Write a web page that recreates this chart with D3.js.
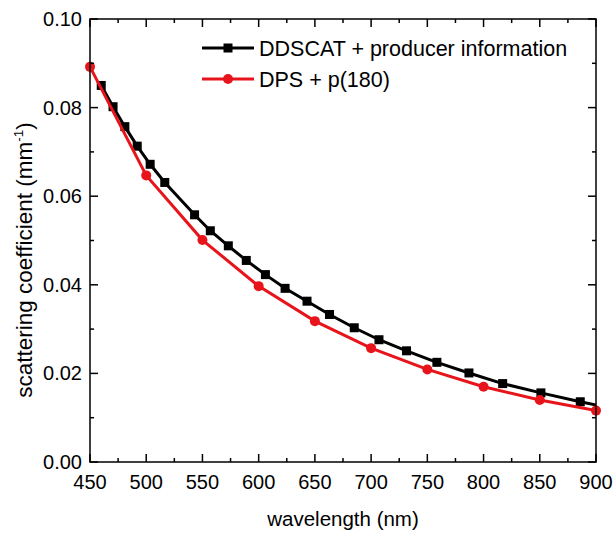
<!DOCTYPE html>
<html>
<head>
<meta charset="utf-8">
<script src="https://cdn.jsdelivr.net/npm/d3@7"></script>
<style>
  html, body { margin: 0; padding: 0; background: #fff; }
  svg text { font-family: Arial, "Liberation Sans", sans-serif; fill: #000; }
</style>
</head>
<body>
<div id="chart"></div>
<script>
// ── Data ───────────────────────────────────────
const DDSCAT_WL  = [460, 470.5, 481, 492, 503.5, 516.5, 543, 557, 573, 589, 606, 623.5,
                    643, 663, 685, 707, 731.5, 758.5, 787, 817, 851, 886, 923];
const DDSCAT_VAL = [0.0850, 0.0802, 0.0757, 0.0713, 0.0672, 0.0631, 0.0558, 0.0522, 0.0488,
                    0.0455, 0.0423, 0.0392, 0.0363, 0.0333, 0.0303, 0.0276, 0.0251, 0.0225,
                    0.0201, 0.0177, 0.0156, 0.0136, 0.0117];
const DPS_WL  = [450, 500, 550, 600, 650, 700, 750, 800, 850, 900];
const DPS_VAL = [0.0892, 0.0647, 0.0501, 0.0397, 0.0318, 0.0257, 0.0209, 0.0170, 0.0140, 0.0116];

const X_TICKS = [450, 500, 550, 600, 650, 700, 750, 800, 850, 900];
const X_MINOR = [475, 525, 575, 625, 675, 725, 775, 825, 875];
const Y_TICKS = [0, 0.02, 0.04, 0.06, 0.08, 0.10];
const Y_MINOR = [0.01, 0.03, 0.05, 0.07, 0.09];

const SERIES = [
  { name: "DDSCAT + producer information", wl: DDSCAT_WL, val: DDSCAT_VAL, color: "#000000", marker: "square" },
  { name: "DPS + p(180)",                  wl: DPS_WL,    val: DPS_VAL,    color: "#e8141b", marker: "circle" }
];

// ── Layout ─────────────────────────────────────
const W = 614, H = 536;
const margin = { top: 19, right: 18, bottom: 74, left: 90 };
const width  = W - margin.left - margin.right;
const height = H - margin.top - margin.bottom;

const svg = d3.select("#chart").append("svg")
  .attr("width", W).attr("height", H);

const g = svg.append("g")
  .attr("transform", `translate(${margin.left},${margin.top})`);

const x = d3.scaleLinear().domain([450, 900]).range([0, width]);
const y = d3.scaleLinear().domain([0, 0.10]).range([height, 0]);

g.append("clipPath").attr("id", "clip")
  .append("rect").attr("width", width).attr("height", height);

// ── Series ─────────────────────────────────────
const line = d3.line().x(d => x(d[0])).y(d => y(d[1]));

SERIES.forEach(s => {
  const pts = s.wl.map((w, i) => [w, s.val[i]]);
  g.append("path")
    .datum(pts)
    .attr("clip-path", "url(#clip)")
    .attr("fill", "none")
    .attr("stroke", s.color)
    .attr("stroke-width", 3)
    .attr("d", line);

  const inside = pts.filter(d => d[0] >= 450 && d[0] <= 900);
  if (s.marker === "square") {
    g.selectAll(null).data(inside).join("rect")
      .attr("x", d => x(d[0]) - 4.5).attr("y", d => y(d[1]) - 4.5)
      .attr("width", 9).attr("height", 9)
      .attr("fill", s.color);
  } else {
    g.selectAll(null).data(inside).join("circle")
      .attr("cx", d => x(d[0])).attr("cy", d => y(d[1]))
      .attr("r", 5)
      .attr("fill", s.color);
  }
});

// ── Frame & ticks (all inward, mirrored) ───────
const MAJ = 8, MIN = 4;
const frame = g.append("g").attr("stroke", "#000").attr("stroke-width", 1.5);

frame.append("rect")
  .attr("width", width).attr("height", height)
  .attr("fill", "none");

[[X_TICKS, MAJ], [X_MINOR, MIN]].forEach(([ticks, len]) => {
  ticks.forEach(t => {
    frame.append("line").attr("x1", x(t)).attr("x2", x(t))
      .attr("y1", height).attr("y2", height - len);
    frame.append("line").attr("x1", x(t)).attr("x2", x(t))
      .attr("y1", 0).attr("y2", len);
  });
});
[[Y_TICKS, MAJ], [Y_MINOR, MIN]].forEach(([ticks, len]) => {
  ticks.forEach(t => {
    frame.append("line").attr("y1", y(t)).attr("y2", y(t))
      .attr("x1", 0).attr("x2", len);
    frame.append("line").attr("y1", y(t)).attr("y2", y(t))
      .attr("x1", width).attr("x2", width - len);
  });
});

// ── Tick labels ────────────────────────────────
g.selectAll(".xl").data(X_TICKS).join("text")
  .attr("x", d => x(d)).attr("y", height + 27)
  .attr("text-anchor", "middle").attr("font-size", "20px")
  .text(d => d);

g.selectAll(".yl").data(Y_TICKS).join("text")
  .attr("x", -8).attr("y", d => y(d) + 7)
  .attr("text-anchor", "end").attr("font-size", "20px")
  .text(d => d3.format(".2f")(d));

// ── Axis titles ────────────────────────────────
g.append("text")
  .attr("x", width / 2).attr("y", height + 64)
  .attr("text-anchor", "middle").attr("font-size", "20.5px")
  .text("wavelength (nm)");

const yt = g.append("text")
  .attr("transform", `translate(-58,${260 - margin.top}) rotate(-90)`)
  .attr("text-anchor", "middle").attr("font-size", "22.5px");
yt.append("tspan").text("scattering coefficient (mm");
yt.append("tspan").attr("font-size", "13.5px").attr("dy", -9).text("-1");
yt.append("tspan").attr("dy", 9).text(")");

// ── Legend ─────────────────────────────────────
const legend = g.append("g").attr("transform", `translate(${202 - margin.left},${48 - margin.top})`);
SERIES.forEach((s, i) => {
  const ly = i * 31;
  legend.append("line")
    .attr("x1", 0).attr("x2", 52).attr("y1", ly).attr("y2", ly)
    .attr("stroke", s.color).attr("stroke-width", 3);
  if (s.marker === "square") {
    legend.append("rect").attr("x", 26 - 4.5).attr("y", ly - 4.5)
      .attr("width", 9).attr("height", 9).attr("fill", s.color);
  } else {
    legend.append("circle").attr("cx", 26).attr("cy", ly).attr("r", 5)
      .attr("fill", s.color);
  }
  legend.append("text")
    .attr("x", 57).attr("y", ly + 8)
    .attr("font-size", "21.5px")
    .text(s.name);
});
</script>
</body>
</html>
